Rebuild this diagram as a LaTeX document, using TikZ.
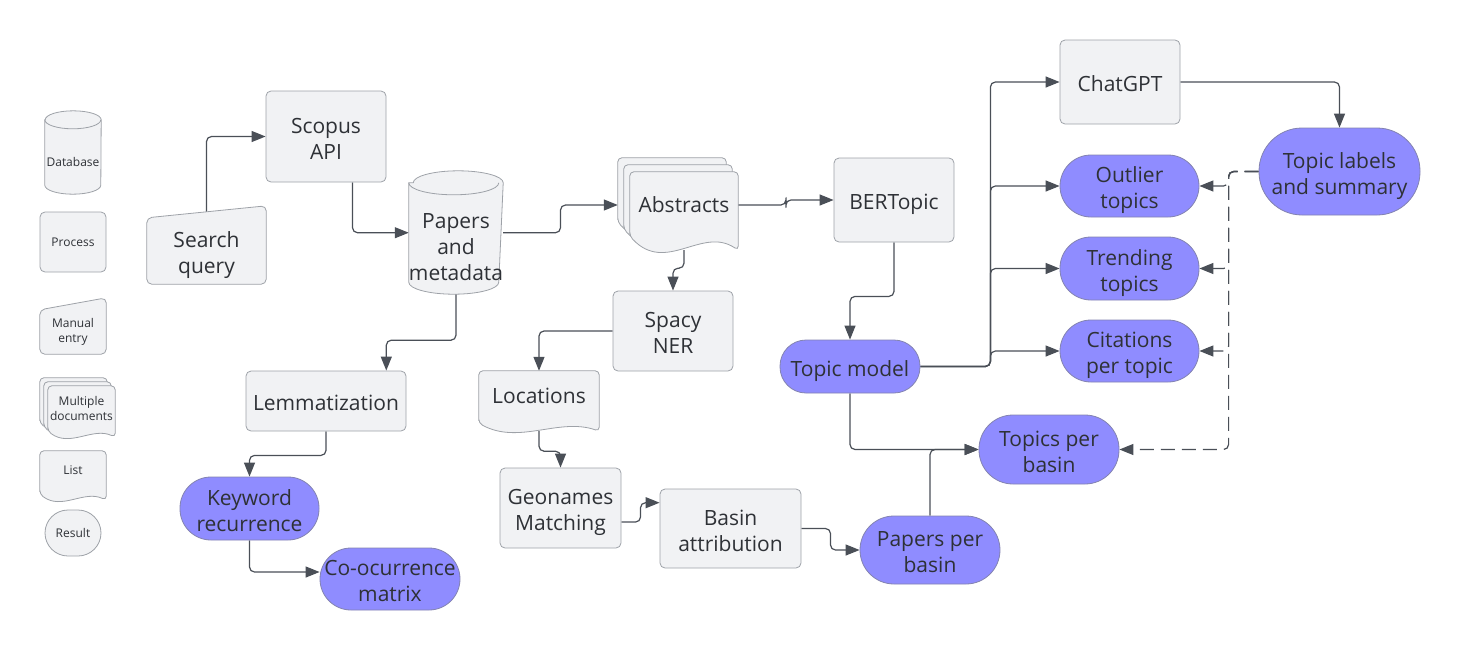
\documentclass[tikz,border=0pt]{standalone}
\usepackage{fontspec}
\setmainfont{Open Sans}
\usetikzlibrary{positioning,calc,arrows.meta}
\definecolor{boxfill}{HTML}{F1F2F4}
\definecolor{boxline}{HTML}{9EA2A8}
\definecolor{pillfill}{HTML}{8F8CFF}
\definecolor{pillline}{HTML}{8383B0}
\definecolor{linecol}{HTML}{4A4F57}
\definecolor{txtcol}{HTML}{2E3136}
\pgfdeclarelayer{lines}
\pgfdeclarelayer{shapes}
\pgfsetlayers{lines,shapes,main}

\tikzset{
  bigtext/.style={font=\fontsize{21}{26}\selectfont, text=txtcol, align=center, inner sep=0pt,
    text height=24pt, text depth=5pt},
  lineone/.style={text height=24pt},
  linetwo/.style={text height=50pt},
  linethree/.style={text height=76pt},
  smalltext/.style={font=\fontsize{12}{15}\selectfont, text=txtcol, align=center, inner sep=0pt},
  procbox/.style={rectangle, rounded corners=5pt, draw=boxline, fill=boxfill, line width=0.8pt},
  resultbox/.style={rectangle, rounded corners=#1, draw=pillline, fill=pillfill, line width=0.8pt},
  resultbox/.default=31pt,
  shapeline/.style={draw=boxline, fill=boxfill, line width=0.8pt},
  arr/.style={draw=linecol, line width=1.2pt, rounded corners=5pt, -{Triangle[length=14pt,width=11pt]}},
  dasharr/.style={arr, dash pattern=on 14pt off 7pt},
}

% cylinder: node, x radius, y radius
\newcommand{\cylshape}[3]{%
  \draw[shapeline] ($(#1.north west)+(0,-#3)$) -- ($(#1.south west)+(0,-#3)$)
    arc[start angle=180, end angle=0, x radius=#2, y radius=#3]
    -- ($(#1.north east)+(0,-#3)$)
    arc[start angle=0, end angle=-180, x radius=#2, y radius=#3] -- cycle;
  \draw[shapeline, fill=none] ($(#1.north west)+(0,-#3)$)
    arc[start angle=180, end angle=0, x radius=#2, y radius=#3];}
% document with wavy bottom: node, wave, offset
\newcommand{\docshape}[3]{%
  \draw[shapeline, rounded corners=4pt] ($(#1.south west)+(#3)+(0,-#2)$) -- ($(#1.north west)+(#3)$)
    -- ($(#1.north east)+(#3)$) -- ($(#1.south east)+(#3)$)
    .. controls ($(#1.south east)!1/3!(#1.south west)+(#3)+(0,-1.75*#2)$)
    and ($(#1.south east)!2/3!(#1.south west)+(#3)+(0,1.75*#2)$)
    .. ($(#1.south west)+(#3)+(0,-#2)$) -- cycle;}
% manual entry: node, slant
\newcommand{\manshape}[2]{%
  \draw[shapeline, rounded corners=5pt] (#1.south west) -- (#1.north west)
    -- ($(#1.north east)+(0,-#2)$) -- (#1.south east) -- cycle;}

\begin{document}
\begin{tikzpicture}[x=1pt, y=-1pt]
\useasboundingbox (0,0) rectangle (1460,651);

% legend
\node (lg_db) [smalltext, minimum width=56pt, minimum height=65pt] at (73,161.5) {Database};
\node (lg_proc) [smalltext, procbox, minimum width=66pt, minimum height=60pt] at (73,242) {Process};
\node (lg_man) [smalltext, minimum width=66pt, minimum height=44pt] at (73,332) {Manual\\entry};
\node (lg_multi) [smalltext, minimum width=67pt, minimum height=51pt, text depth=6pt] at (81.5,411.5) {Multiple\\documents};
\node (lg_list) [smalltext, minimum width=66pt, minimum height=49pt, text depth=10pt] at (73,475.5) {List};
\node (lg_res) [smalltext, rectangle, rounded corners=23pt, draw=boxline, fill=boxfill, line width=0.8pt,
  minimum width=56pt, minimum height=46pt] at (73,533) {Result};

% inputs and processing
\node (search) [bigtext, linetwo, minimum width=119pt, minimum height=66pt] at (206.5,251) {Search\\query};
\node (scopus) [bigtext, linetwo, procbox, minimum width=120pt, minimum height=91pt] at (326,136.5) {Scopus\\API};
\node (papers) [bigtext, linethree, minimum width=90pt, minimum height=99pt] at (456,244.5) {Papers\\and\\metadata};
\node (abstracts) [bigtext, minimum width=108pt, minimum height=78pt, text depth=22pt] at (684,211) {Abstracts};
\node (bert) [bigtext, lineone, procbox, minimum width=120pt, minimum height=84pt] at (894,200) {BERTopic};
\node (spacy) [bigtext, linetwo, procbox, minimum width=120pt, minimum height=80pt] at (673,331) {Spacy\\NER};
\node (lemma) [bigtext, lineone, procbox, minimum width=160pt, minimum height=60pt] at (326,401) {Lemmatization};
\node (locations) [bigtext, minimum width=120pt, minimum height=60pt, text depth=20pt] at (539,401) {Locations};
\node (geonames) [bigtext, linetwo, procbox, minimum width=121pt, minimum height=80pt] at (560.5,508) {Geonames\\Matching};
\node (basin) [bigtext, linetwo, procbox, minimum width=141pt, minimum height=79pt] at (730.5,528.5) {Basin\\attribution};
\node (chatgpt) [bigtext, lineone, procbox, minimum width=120pt, minimum height=84pt] at (1120,82) {ChatGPT};

% results
\node (keyword) [bigtext, linetwo, resultbox, minimum width=139pt, minimum height=63pt] at (249.5,508.5) {Keyword\\recurrence};
\node (cooc) [bigtext, linetwo, resultbox, minimum width=140pt, minimum height=62pt] at (390,579) {Co-ocurrence\\matrix};
\node (ppb) [bigtext, linetwo, resultbox=34pt, minimum width=140pt, minimum height=68pt] at (930,550) {Papers per\\basin};
\node (tmodel) [bigtext, lineone, resultbox=26pt, minimum width=140pt, minimum height=53pt] at (850,366.5) {Topic model};
\node (tpb) [bigtext, linetwo, resultbox=34pt, minimum width=140pt, minimum height=69pt] at (1049,449.5) {Topics per\\basin};
\node (outlier) [bigtext, linetwo, resultbox, minimum width=139pt, minimum height=62pt] at (1129.5,186) {Outlier\\topics};
\node (trending) [bigtext, linetwo, resultbox, minimum width=139pt, minimum height=63pt] at (1129.5,268.5) {Trending\\topics};
\node (citations) [bigtext, linetwo, resultbox, minimum width=139pt, minimum height=62pt] at (1129.5,351) {Citations\\per topic};
\node (labels) [bigtext, linetwo, resultbox=43pt, minimum width=161pt, minimum height=87pt] at (1339.5,171.5) {Topic labels\\and summary};

\coordinate (abstracts_in) at ($(abstracts.west)+(-12,-6)$);
\coordinate (abstracts_out) at ($(abstracts.east)+(0,-6)$);
\coordinate (fork) at ($(tmodel.east)+(70,0)$);
\coordinate (dfork) at ($(labels.west)+(-30,0)$);

% drawn outlines
\begin{pgfonlayer}{shapes}
  \cylshape{lg_db}{28}{9}
  \manshape{lg_man}{12}
  \docshape{lg_multi}{6}{-8,-8}
  \docshape{lg_multi}{6}{-4,-4}
  \docshape{lg_multi}{6}{0,0}
  \docshape{lg_list}{6}{0,0}
  \manshape{search}{12}
  \cylshape{papers}{45}{12}
  \docshape{abstracts}{14}{-12,-14}
  \docshape{abstracts}{14}{-6,-7}
  \docshape{abstracts}{14}{0,0}
  \docshape{locations}{8}{0,0}
\end{pgfonlayer}

% connectors
\begin{pgfonlayer}{lines}
  \draw[arr] (search.north) |- (scopus.west);
  \draw[arr] (scopus.-60) |- (papers.166);
  \draw[arr] (papers.14) -| ($(papers.14)!0.5!(abstracts_in)$) |- (abstracts_in);
  \draw[arr] (abstracts_out) -| ($(abstracts_out)!0.5!(bert.west)$) |- (bert.west);
  \draw[arr] (abstracts.south) -- ++(0,18) -| (spacy.north);
  \draw[arr] (spacy.west) -| (locations.north);
  \draw[arr] (papers.south) -- ++(0,46) -| ($(lemma.north west)!0.875!(lemma.north east)$);
  \draw[arr] (lemma.south) -- ++(0,24) -| (keyword.north);
  \draw[arr] (keyword.south) |- ($(cooc.west)+(0,-7)$);
  \draw[arr] (locations.south) -- ++(0,20) -| (geonames.north);
  \draw[arr] (geonames.-13) -| ($(geonames.-13)!0.5!(basin.160)$) |- (basin.160);
  \draw[arr] (basin.east) -| ($(basin.east)!0.5!(ppb.west)$) |- (ppb.west);
  \draw[arr] (bert.south) -- ++(0,54) -| (tmodel.north);
  \draw[arr] (tmodel.east) -- (fork) |- (chatgpt.west);
  \draw[arr] (tmodel.east) -- (fork) |- (outlier.west);
  \draw[arr] (tmodel.east) -- (fork) |- (trending.west);
  \draw[arr] (tmodel.east) -- (fork) |- (citations.west);
  \draw[arr] (tmodel.south) |- (tpb.west);
  \draw[arr] (ppb.north) |- (tpb.west);
  \draw[arr] (chatgpt.east) -| (labels.north);
  \draw[dasharr] (labels.west) -- (dfork) |- (outlier.east);
  \draw[dasharr] (labels.west) -- (dfork) |- (trending.east);
  \draw[dasharr] (labels.west) -- (dfork) |- (citations.east);
  \draw[dasharr] (labels.west) -- (dfork) |- (tpb.east);
\end{pgfonlayer}
\end{tikzpicture}
\end{document}
